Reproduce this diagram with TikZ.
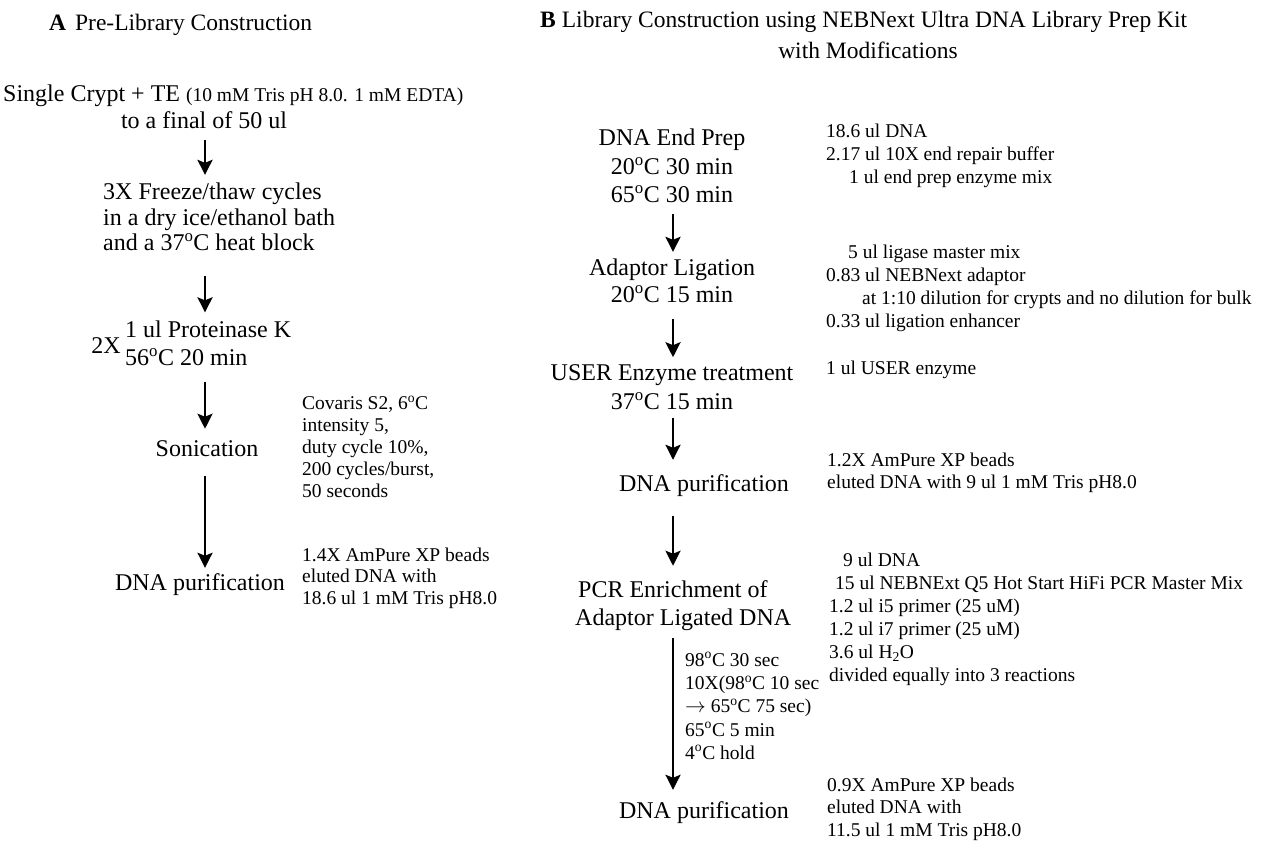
\documentclass[tikz,border=0pt]{standalone}
\usepackage{fontspec}
\setmainfont{Liberation Serif}
\usepackage{tikz}
\usetikzlibrary{arrows.meta}
\newcommand{\dC}{\textsuperscript{o}C}
\tikzstyle{stage}=[inner sep=0pt, align=center, font=\fontsize{24}{28}\selectfont]
\tikzstyle{note}=[inner sep=0pt, anchor=west, align=left, font=\fontsize{19.5}{22.5}\selectfont]
\tikzstyle{head}=[inner sep=0pt, anchor=west, font=\fontsize{23.5}{28}\selectfont]
\tikzstyle{edge}=[line width=2.6pt, -{Stealth[length=15pt,width=15pt,inset=3pt]}]

\begin{document}
\begin{tikzpicture}[x=1pt,y=-1pt]
				\useasboundingbox (0,0) rectangle (1268,840);
				
				%Panel A: pre-library
				\draw (49,25) node[head] (titleA) {\textbf{A}\hspace{9pt}Pre-Library Construction};
				\draw (3,96) node[stage,anchor=west] (crypt) {Single Crypt + TE {\fontsize{19.5}{22}\selectfont(10 mM Tris pH 8.0. 1 mM EDTA)}};
				\draw (204,120) node[stage] (final) {to a final of 50 ul};
				\draw (103,217) node[stage,anchor=west,align=left,font=\fontsize{24}{25.5}\selectfont] (freeze) {3X Freeze/thaw cycles\\in a dry ice/ethanol bath\\and a 37\dC{} heat block};
				\draw (125,343) node[stage,anchor=west,align=left] (prot) {1 ul Proteinase K\\56\dC{} 20 min};
				\draw (121,346) node[stage,anchor=east] (twox) {2X};
				\draw (207,449) node[stage] (son) {Sonication};
				\draw (302,447) node[note,font=\fontsize{19.5}{22}\selectfont] (sonnote) {Covaris S2, 6\dC\\intensity 5,\\duty cycle 10\%,\\200 cycles/burst,\\50 seconds};
				\draw (200,585) node[stage] (purA) {DNA purification};
				\draw (302,578) node[note,font=\fontsize{19.5}{21.5}\selectfont] (purAnote) {1.4X AmPure XP beads\\eluted DNA with\\18.6 ul 1 mM Tris pH8.0};
				\coordinate (colA) at (205,0);
				
				\draw[edge, shorten <=11pt, shorten >=8pt] (final.south -| colA) -- (freeze.north -| colA);
				\draw[edge, shorten <=25pt, shorten >=8pt] (freeze.south -| colA) -- (prot.north -| colA);
				\draw[edge, shorten <=16pt, shorten >=12pt] (prot.south -| colA) -- (son.north -| colA);
				\draw[edge, shorten <=19pt, shorten >=6pt] (son.south -| colA) -- (purA.north -| colA);
				
				%Panel B: library construction
				\draw (540,22) node[head] (titleB) {\textbf{B}\hspace{6pt}Library Construction using NEBNext Ultra DNA Library Prep Kit};
				\draw (868,50) node[head,anchor=center] (titleB2) {with Modifications};
				\draw (672,166) node[stage,font=\fontsize{24}{28.5}\selectfont] (endprep) {DNA End Prep\\20\dC{} 30 min\\65\dC{} 30 min};
				\draw (826,156) node[note,font=\fontsize{19.5}{23}\selectfont] (endnote) {18.6 ul DNA\\2.17 ul 10X end repair buffer\\\hspace*{23pt}1 ul end prep enzyme mix};
				\draw (672,281) node[stage,font=\fontsize{24}{27}\selectfont] (lig) {Adaptor Ligation\\20\dC{} 15 min};
				\draw (826,288) node[note,font=\fontsize{19.5}{23}\selectfont] (lignote) {\hspace*{22pt}5 ul ligase master mix\\0.83 ul NEBNext adaptor\\\hspace*{36pt}at 1:10 dilution for crypts and no dilution for bulk\\0.33 ul ligation enhancer};
				\draw (672,387) node[stage,font=\fontsize{24}{29}\selectfont] (user) {USER Enzyme treatment\\37\dC{} 15 min};
				\draw (826,370) node[note] (usernote) {1 ul USER enzyme};
				\draw (704,486) node[stage] (purB) {DNA purification};
				\draw (827,473) node[note,font=\fontsize{19.5}{22}\selectfont] (purBnote) {1.2X AmPure XP beads\\eluted DNA with 9 ul 1 mM Tris pH8.0};
				\draw (575,606) node[stage,anchor=west,align=left] (pcr) {\hspace*{3pt}PCR Enrichment of\\Adaptor Ligated DNA};
				\draw (829,619) node[note,font=\fontsize{19.5}{23}\selectfont] (pcrnote) {\hspace*{14pt}9 ul DNA\\\hspace*{6pt}15 ul NEBNExt Q5 Hot Start HiFi PCR Master Mix\\1.2 ul i5 primer (25 uM)\\1.2 ul i7 primer (25 uM)\\3.6 ul H\textsubscript{2}O\\divided equally into 3 reactions};
				\draw (685,706) node[note,font=\fontsize{19.5}{23.3}\selectfont] (cycle) {98\dC{} 30 sec\\10X(98\dC{} 10 sec\\$\rightarrow$ 65\dC{} 75 sec)\\65\dC{} 5 min\\4\dC{} hold};
				\draw (704,813) node[stage] (purC) {DNA purification};
				\draw (827,809) node[note] (purCnote) {0.9X AmPure XP beads\\eluted DNA with\\11.5 ul 1 mM Tris pH8.0};
				\coordinate (colB) at (673,0);
				
				\draw[edge, shorten <=11pt, shorten >=7pt] (endprep.south -| colB) -- (lig.north -| colB);
				\draw[edge, shorten <=16pt, shorten >=7pt] (lig.south -| colB) -- (user.north -| colB);
				\draw[edge, shorten <=8pt, shorten >=15pt] (user.south -| colB) -- (purB.north -| colB);
				\draw[edge, shorten <=19pt, shorten >=15pt] (purB.south -| colB) -- (pcr.north -| colB);
				\draw[edge, shorten <=7pt, shorten >=12pt] (pcr.south -| colB) -- (purC.north -| colB);
			\end{tikzpicture}
\end{document}
